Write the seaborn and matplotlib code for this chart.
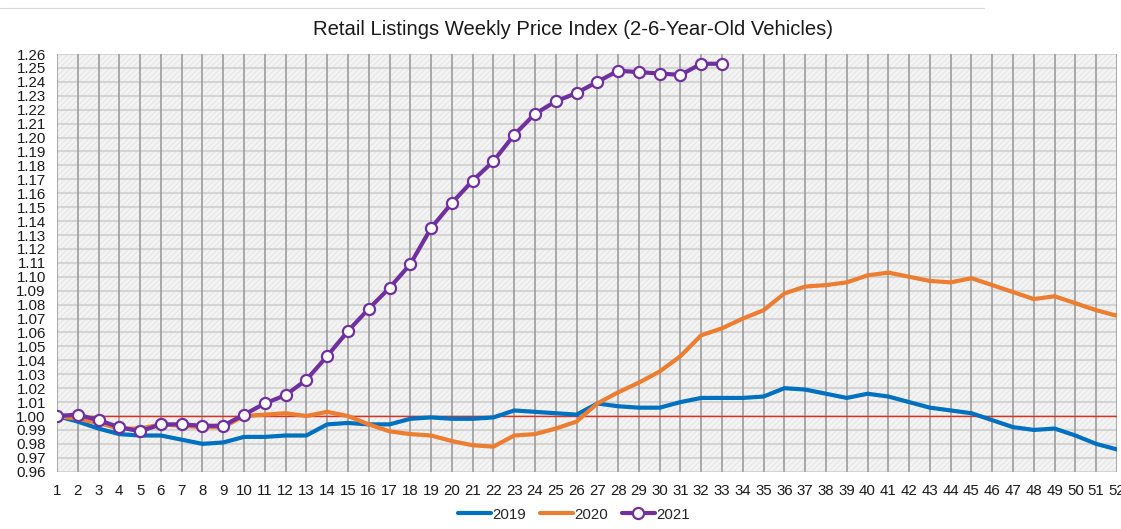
import numpy as np
import pandas as pd
import seaborn as sns
import matplotlib
matplotlib.use("Agg")
import matplotlib.pyplot as plt
from matplotlib.patches import Rectangle
from matplotlib.lines import Line2D

# weekly index values
weeks = list(range(1, 53))
idx_2019 = [1.000, 0.996, 0.991, 0.987, 0.986, 0.986, 0.983, 0.980, 0.981, 0.985,
            0.985, 0.986, 0.986, 0.994, 0.995, 0.994, 0.994, 0.998, 0.999, 0.998,
            0.998, 0.999, 1.004, 1.003, 1.002, 1.001, 1.009, 1.007, 1.006, 1.006,
            1.010, 1.013, 1.013, 1.013, 1.014, 1.020, 1.019, 1.016, 1.013, 1.016,
            1.014, 1.010, 1.006, 1.004, 1.002, 0.997, 0.992, 0.990, 0.991, 0.986,
            0.980, 0.976]
idx_2020 = [1.000, 0.998, 0.995, 0.991, 0.991, 0.994, 0.993, 0.992, 0.992, 1.000,
            1.001, 1.002, 1.000, 1.003, 1.000, 0.994, 0.989, 0.987, 0.986, 0.982,
            0.979, 0.978, 0.986, 0.987, 0.991, 0.996, 1.009, 1.017, 1.024, 1.032,
            1.043, 1.058, 1.063, 1.070, 1.076, 1.088, 1.093, 1.094, 1.096, 1.101,
            1.103, 1.100, 1.097, 1.096, 1.099, 1.094, 1.089, 1.084, 1.086, 1.081,
            1.076, 1.072]
idx_2021 = [1.000, 1.001, 0.997, 0.992, 0.989, 0.994, 0.994, 0.993, 0.993, 1.001,
            1.009, 1.015, 1.026, 1.043, 1.061, 1.077, 1.092, 1.109, 1.135, 1.153,
            1.169, 1.183, 1.202, 1.217, 1.226, 1.232, 1.240, 1.248, 1.247, 1.246,
            1.245, 1.253, 1.253]

colors = {"2019": "#0070C0", "2020": "#ED7D31", "2021": "#7030A0"}

sns.set_style("white")
plt.rcParams["font.family"] = ["Liberation Sans", "DejaVu Sans"]
plt.rcParams["hatch.linewidth"] = 0.5

df19 = pd.DataFrame({"week": weeks, "index": idx_2019})
df20 = pd.DataFrame({"week": weeks, "index": idx_2020})
df21 = pd.DataFrame({"week": weeks[:len(idx_2021)], "index": idx_2021})

fig = plt.figure(figsize=(11.21, 5.29), dpi=100)
ax = fig.add_axes([0.0508, 0.1083, 0.9456, 0.7896])
ax.set_facecolor("#f3f3f3")

# hatched background
ax.add_patch(Rectangle((0, 0), 1, 1, transform=ax.transAxes, facecolor="#f3f3f3",
                       edgecolor="#e1e1e1", hatch="//////", lw=0, zorder=0))

ax.set_xlim(1, 52)
ax.set_ylim(0.96, 1.26)
ax.set_xticks(weeks)
yt = np.round(np.arange(0.96, 1.2601, 0.01), 2)
ax.set_yticks(yt)
ax.set_yticklabels([f"{v:.2f}" for v in yt])

for v in yt:
    ax.axhline(v, color="#d4d4d4", lw=1.5, zorder=1)
for w in weeks:
    ax.axvline(w, color="#9c9c9c", lw=1.2, zorder=1)
ax.axhline(1.0, color="#e03020", lw=1.0, zorder=2)

sns.lineplot(data=df19, x="week", y="index", color=colors["2019"], lw=3, ax=ax, zorder=3)
sns.lineplot(data=df20, x="week", y="index", color=colors["2020"], lw=3, ax=ax, zorder=3)
sns.lineplot(data=df21, x="week", y="index", color=colors["2021"], lw=3, ax=ax, zorder=4,
             marker="o", markersize=8, markerfacecolor="white",
             markeredgecolor=colors["2021"], markeredgewidth=1.6)

for s in ax.spines.values():
    s.set_visible(False)
ax.tick_params(axis="both", length=0, labelsize=10.8, colors="#1a1a1a")
ax.tick_params(axis="x", pad=9)
ax.tick_params(axis="y", pad=8)
ax.set_xlabel("")
ax.set_ylabel("")

fig.text(0.511, 0.945, "Retail Listings Weekly Price Index (2-6-Year-Old Vehicles)",
         ha="center", va="center", fontsize=14.6, color="#1a1a1a")

# faint top rule
fig.add_artist(Line2D([0.0, 0.878], [0.985, 0.985], color="#d8d8d8", lw=0.8))

handles = [
    Line2D([], [], color=colors["2019"], lw=3),
    Line2D([], [], color=colors["2020"], lw=3),
    Line2D([], [], color=colors["2021"], lw=3, marker="o", markersize=8,
           markerfacecolor="white", markeredgecolor=colors["2021"], markeredgewidth=1.6),
]
fig.legend(handles, ["2019", "2020", "2021"], loc="center", bbox_to_anchor=(0.512, 0.027),
           ncol=3, frameon=False, fontsize=10.8, handlelength=2.2, handletextpad=0.1,
           columnspacing=0.9)

fig.savefig("out.png", dpi=100)
